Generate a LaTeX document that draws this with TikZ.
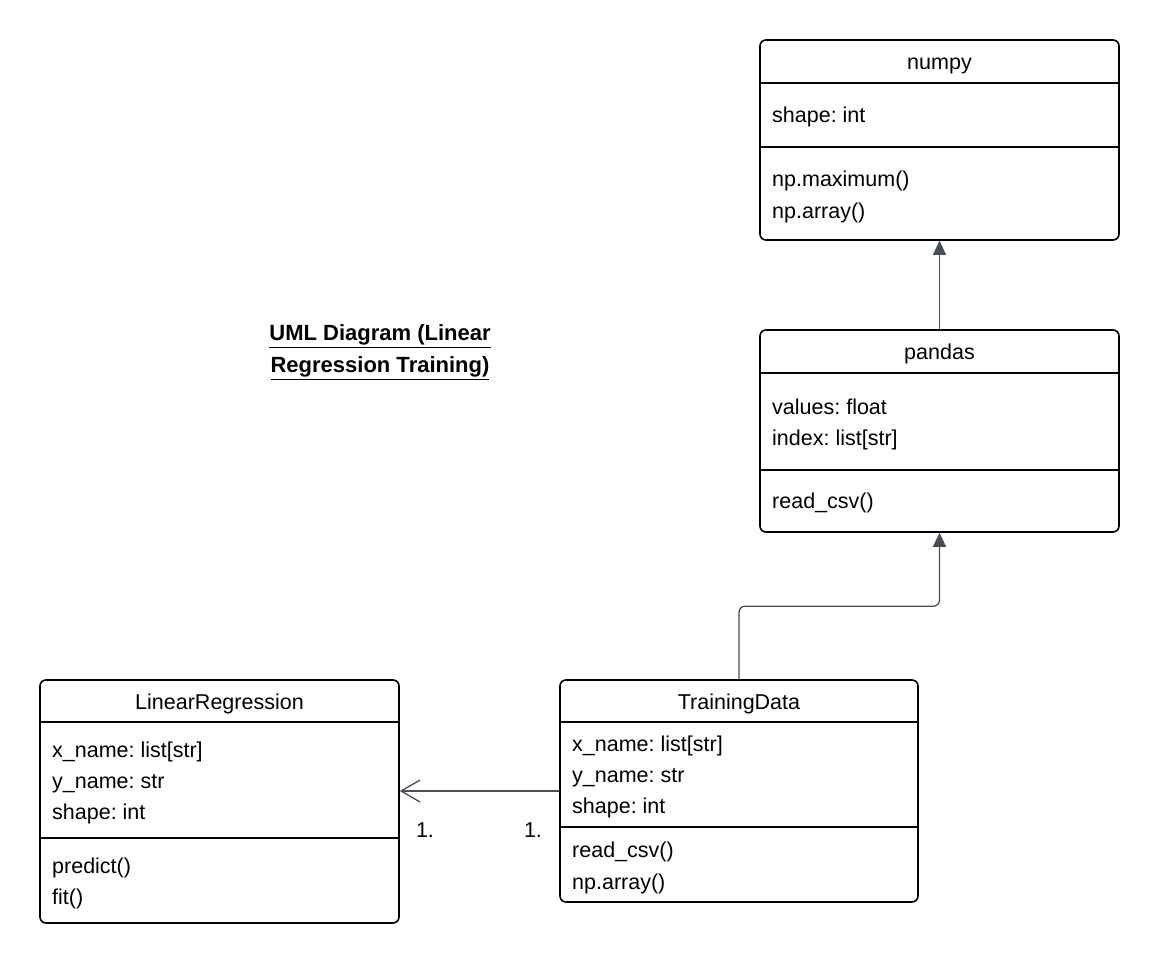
\documentclass[tikz,border=0pt]{standalone}
\usepackage{fontspec}
\setmainfont{Liberation Sans}
\usetikzlibrary{arrows.meta, positioning, calc}
\definecolor{linkgray}{RGB}{72,78,88}
\frenchspacing

\begin{document}
\begin{tikzpicture}[x=1pt, y=-1pt,
    umlbox/.style={draw, line width=1.6pt, rounded corners=6pt, inner sep=0pt},
    umlrule/.style={line width=1.6pt},
    umltext/.style={anchor=west, inner sep=0pt, text height=15pt, text depth=4.5pt, font=\fontsize{21.5}{25}\selectfont},
    umlname/.style={umltext, anchor=center},
    conn/.style={draw=linkgray, line width=1.3pt}]
\useasboundingbox (0,0) rectangle (1160,964);

% title
\node[align=center, inner sep=0pt, font=\fontsize{22}{32}\selectfont\bfseries] (title) at (380,352)
  {\underline{UML Diagram (Linear}\\\underline{Regression Training)}};

% numpy
\node[umlbox, minimum width=359, minimum height=200] (numpy) at (939.5,140) {};
\node[umlname] (numpyname) at (939.5,64) {numpy};
\draw[umlrule] (760,83) -- (1119,83);
\draw[umlrule] (760,147) -- (1119,147);
\node[umltext] (numpya1) at (772,117) {shape: int};
\node[umltext] (numpym1) at (772,181) {np.maximum()};
\node[umltext] (numpym2) at (772,213) {np.array()};

% pandas
\node[umlbox, minimum width=359, minimum height=202] (pandas) at (939.5,431) {};
\node[umlname] (pandasname) at (939.5,354) {pandas};
\draw[umlrule] (760,373) -- (1119,373);
\draw[umlrule] (760,470) -- (1119,470);
\node[umltext] (pandasa1) at (772,409) {values: float};
\node[umltext] (pandasa2) at (772,440) {index: list[str]};
\node[umltext] (pandasm1) at (772,503) {read\_csv()};

% LinearRegression
\node[umlbox, minimum width=359, minimum height=243] (linreg) at (219.5,801.5) {};
\node[umlname] (linregname) at (219.5,704) {LinearRegression};
\draw[umlrule] (40,722) -- (399,722);
\draw[umlrule] (40,838) -- (399,838);
\node[umltext] (linrega1) at (52,752) {x\_name: list[str]};
\node[umltext] (linrega2) at (52,783) {y\_name: str};
\node[umltext] (linrega3) at (52,814) {shape: int};
\node[umltext] (linregm1) at (52,868) {predict()};
\node[umltext] (linregm2) at (52,899) {fit()};

% TrainingData
\node[umlbox, minimum width=358, minimum height=222] (train) at (739,791) {};
\node[umlname] (trainname) at (739,704) {TrainingData};
\draw[umlrule] (560,722) -- (918,722);
\draw[umlrule] (560,827) -- (918,827);
\node[umltext] (traina1) at (572,746) {x\_name: list[str]};
\node[umltext] (traina2) at (572,777) {y\_name: str};
\node[umltext] (traina3) at (572,808) {shape: int};
\node[umltext] (trainm1) at (572,852) {read\_csv()};
\node[umltext] (trainm2) at (572,884) {np.array()};

% connectors
\draw[conn, -{Triangle[length=14pt, width=13pt]}, fill=linkgray] (pandas.north) -- (numpy.south);
\draw[conn, rounded corners=6pt, -{Triangle[length=14pt, width=13pt, fill=linkgray]}]
  (train.north) -- ++(0,-73) -| (pandas.south);
\draw[conn, -{Straight Barb[length=19pt, width=22pt]}] (train.west) -- (train.west -| linreg.east);
\node[umltext, anchor=center] (mult1) at (425,832) {1.};
\node[umltext, anchor=center] (mult2) at (533,832) {1.};
\end{tikzpicture}
\end{document}
